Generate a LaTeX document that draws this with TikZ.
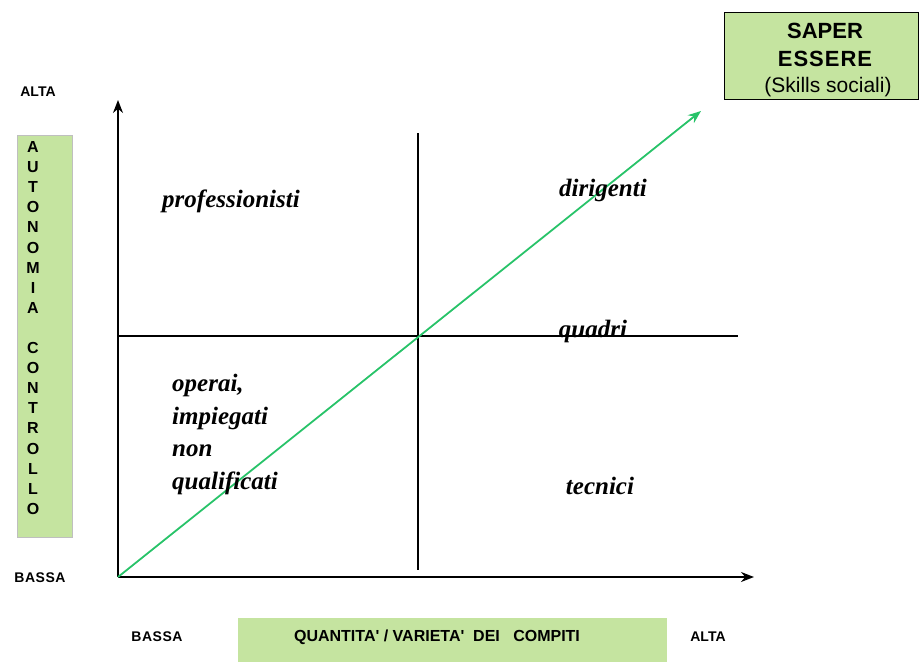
\documentclass[tikz,border=0pt]{standalone}
\usepackage{fontspec}
\setmainfont{Liberation Serif}
\newfontfamily\arialf{Liberation Sans}
\usetikzlibrary{arrows.meta}
\definecolor{boxgreen}{RGB}{197,228,160}
\definecolor{linegreen}{RGB}{40,195,105}
\tikzset{
  lbl/.style={font=\fontsize{25}{28}\selectfont\bfseries\itshape, inner sep=0pt},
  sans/.style={font=\arialf\fontsize{14}{16}\selectfont\bfseries, inner sep=0pt},
  axis/.style={line width=1.6pt, -{Stealth[length=13pt,width=10pt]}},
  mid/.style={line width=1.3pt},
}
\begin{document}
\begin{tikzpicture}[x=1pt,y=-1pt]
\useasboundingbox (0,0) rectangle (922,662);
% axes
\coordinate (O) at (118,577);
\coordinate (Ytop) at (118,100);
\coordinate (Xend) at (754,577);
\draw[axis] (O) -- (Ytop);
\draw[axis] (O) -- (Xend);
% mid lines
\coordinate (vt) at (418,133);
\coordinate (vb) at (418,570);
\coordinate (hl) at (118,336);
\coordinate (hr) at (738,336);
\draw[mid] (vt) -- (vb);
\draw[mid] (hl) -- (hr);
% green diagonal
\coordinate (G) at (701,111);
\draw[linegreen, line width=1.8pt, -{Stealth[length=13pt,width=10pt]}] (O) -- (G);
% labels
\node[lbl] (prof) at (231,201) {professionisti};
\node[lbl] (dir) at (603,190) {dirigenti};
\node[lbl] (quad) at (593,331) {quadri};
\node[lbl] (tec) at (600,486) {tecnici};
\node[lbl, align=left, anchor=north west, font=\fontsize{25}{32.5}\selectfont\bfseries\itshape] (op) at (172,374) {operai,\\impiegati\\non\\qualificati};
% top right box
\node[draw=black, line width=1.2pt, fill=boxgreen, minimum width=194pt, minimum height=87pt, anchor=north west, inner sep=0pt] (se) at (724,12) {};
\node[font=\arialf\fontsize{22}{24}\selectfont\bfseries, inner sep=0pt] (se1) at (825,31) {SAPER};
\node[font=\arialf\fontsize{22}{24}\selectfont\bfseries, inner sep=0pt] (se2) at (825,59) {E\kern1pt S\kern1pt S\kern1pt E\kern1pt R\kern1pt E};
\node[font=\arialf\fontsize{21}{24}\selectfont, inner sep=0pt] (se3) at (828,87) {(Skills sociali)};
% left vertical box
\node[draw=black!25, line width=1pt, fill=boxgreen, minimum width=55pt, minimum height=402pt, anchor=north west, inner sep=0pt] (ac) at (17,135) {};
\foreach \ch [count=\i from 0] in {A,U,T,O,N,O,M,I,A,{},C,O,N,T,R,O,L,L,O}{
  \node[sans, font=\arialf\fontsize{16}{16}\selectfont\bfseries] (l\i) at (33,147+\i*20.1) {\ch};
}
\node[sans] (altay) at (38,92) {ALTA};
\node[sans] (bassay) at (40,578) {B\kern0.5pt A\kern0.5pt S\kern0.5pt S\kern0.5pt A};
% bottom
\node[fill=boxgreen, minimum width=429pt, minimum height=44pt, anchor=north west, inner sep=0pt] (qv) at (238,618) {};
\node[font=\arialf\fontsize{16}{18}\selectfont\bfseries, inner sep=0pt] (qvt) at (437,637) {QUANTITA' / VARIETA'~ DEI~~ COMPITI};
\node[sans] (bassax) at (157,637) {B\kern0.5pt A\kern0.5pt S\kern0.5pt S\kern0.5pt A};
\node[sans] (altax) at (708,637) {ALTA};
\end{tikzpicture}
\end{document}
